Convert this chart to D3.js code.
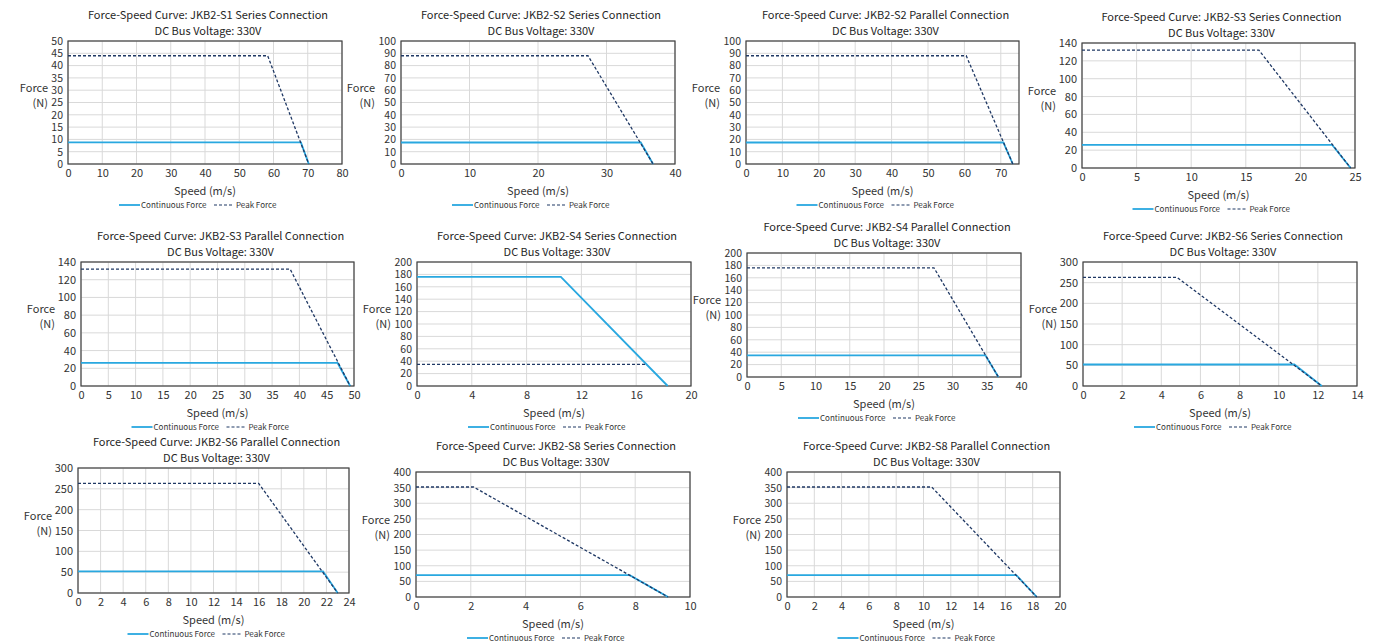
<!DOCTYPE html>
<html>
<head>
<meta charset="UTF-8">
<title>Force-Speed Curves</title>
<script src="https://cdn.jsdelivr.net/npm/d3@7"></script>
<style>
  body { margin: 0; background: #fff; }
  svg text { font-family: "Noto Sans CJK SC", "Noto Sans", sans-serif; fill: #333; }
</style>
</head>
<body>
<div id="chart"></div>
<script>
// chart data
var titles = [
  "Force-Speed Curve: JKB2-S1 Series Connection",
  "Force-Speed Curve: JKB2-S2 Series Connection",
  "Force-Speed Curve: JKB2-S2 Parallel Connection",
  "Force-Speed Curve: JKB2-S3 Series Connection",
  "Force-Speed Curve: JKB2-S3 Parallel Connection",
  "Force-Speed Curve: JKB2-S4 Series Connection",
  "Force-Speed Curve: JKB2-S4 Parallel Connection",
  "Force-Speed Curve: JKB2-S6 Series Connection",
  "Force-Speed Curve: JKB2-S6 Parallel Connection",
  "Force-Speed Curve: JKB2-S8 Series Connection",
  "Force-Speed Curve: JKB2-S8 Parallel Connection"
];
var subtitle = "DC Bus Voltage: 330V";
var xMaxes = [80, 40, 75, 25, 50, 20, 40, 14, 24, 10, 20];
var xSteps = [10, 10, 10, 5, 5, 4, 5, 2, 2, 2, 2];
var yMaxes = [50, 100, 100, 140, 140, 200, 200, 300, 300, 400, 400];
var ySteps = [5, 10, 10, 20, 20, 20, 20, 50, 50, 50, 50];

// [speed, force] points
var continuousForce = [
  [[0, 8.8], [68, 8.8], [70.3, 0]],
  [[0, 17.5], [35, 17.5], [36.8, 0]],
  [[0, 17.5], [70.7, 17.5], [73.3, 0]],
  [[0, 26], [22.9, 26], [24.6, 0]],
  [[0, 26], [47, 26], [49.3, 0]],
  [[0, 176], [10.5, 176], [18.3, 0]],
  [[0, 35], [34.8, 35], [36.7, 0]],
  [[0, 52], [10.8, 52], [12.2, 0]],
  [[0, 52], [21.7, 52], [23, 0]],
  [[0, 70], [7.8, 70], [9.2, 0]],
  [[0, 70], [16.8, 70], [18.3, 0]]
];
var peakForce = [
  [[0, 44], [58.3, 44], [70.3, 0]],
  [[0, 88], [27.3, 88], [36.8, 0]],
  [[0, 88], [60.5, 88], [73.3, 0]],
  [[0, 132], [16.2, 132], [24.6, 0]],
  [[0, 132], [38.3, 132], [49.3, 0]],
  [[0, 35], [16.7, 35]],
  [[0, 176], [27.3, 176], [36.7, 0]],
  [[0, 263], [4.8, 263], [12.2, 0]],
  [[0, 263], [16, 263], [23, 0]],
  [[0, 352], [2.1, 352], [9.2, 0]],
  [[0, 352], [10.6, 352], [18.3, 0]]
];

// plot boxes on the page: left, top, right, bottom
var boxes = [
  [68, 41, 342, 164],
  [401, 41, 675, 164],
  [746, 41, 1019, 164],
  [1082, 43, 1355, 168],
  [81, 262, 354, 386],
  [417, 262, 691, 386],
  [747, 253, 1021, 377],
  [1083, 262, 1357, 386],
  [78, 468, 349, 593],
  [416, 472, 690, 597],
  [787, 472, 1060, 597]
];

var W = 1390, H = 643;
var blue = '#29a8e0', navy = '#1f3864';

var svg = d3.select('#chart').append('svg')
    .attr('width', W)
    .attr('height', H);

titles.forEach(function(title, i){
  var b = boxes[i];
  var x = d3.scaleLinear().domain([0, xMaxes[i]]).range([b[0], b[2]]);
  var y = d3.scaleLinear().domain([0, yMaxes[i]]).range([b[3], b[1]]);
  var xt = d3.range(0, xMaxes[i] + 0.001, xSteps[i]);
  var yt = d3.range(0, yMaxes[i] + 0.001, ySteps[i]);
  var g = svg.append('g');
  var cx = (b[0] + b[2]) / 2;

  // grid
  g.selectAll('line.vg').data(xt).enter().append('line')
      .attr('x1', function(d){ return x(d); }).attr('x2', function(d){ return x(d); })
      .attr('y1', b[1]).attr('y2', b[3])
      .style('stroke', '#d9d9d9').style('stroke-width', 1);
  g.selectAll('line.hg').data(yt).enter().append('line')
      .attr('y1', function(d){ return y(d); }).attr('y2', function(d){ return y(d); })
      .attr('x1', b[0]).attr('x2', b[2])
      .style('stroke', '#d9d9d9').style('stroke-width', 1);

  g.append('rect')
      .attr('x', b[0]).attr('y', b[1])
      .attr('width', b[2] - b[0]).attr('height', b[3] - b[1])
      .style('fill', 'none').style('stroke', '#404040').style('stroke-width', 1.2);

  // axes (labels only)
  var xa = d3.axisBottom(x).tickValues(xt).tickSize(0).tickPadding(5);
  var ya = d3.axisLeft(y).tickValues(yt).tickSize(0).tickPadding(5);
  var gx = g.append('g').attr('transform', 'translate(0,' + b[3] + ')').call(xa);
  var gy = g.append('g').attr('transform', 'translate(' + b[0] + ',0)').call(ya);
  var gap = (b[3] - b[1]) / yt.length;
  [gx, gy].forEach(function(a, k){
    a.select('.domain').remove();
    a.selectAll('text')
        .style('font-family', '"Noto Sans CJK SC", sans-serif')
        .style('font-size', (k == 1 && gap < 14 ? 10.5 : 11) + 'px')
        .style('fill', '#333');
  });

  // lines
  var line = d3.line().x(function(d){ return x(d[0]); }).y(function(d){ return y(d[1]); });
  g.append('path').attr('d', line(continuousForce[i]))
      .style('fill', 'none').style('stroke', blue).style('stroke-width', 1.8);
  g.append('path').attr('d', line(peakForce[i]))
      .style('fill', 'none').style('stroke', navy).style('stroke-width', 1.3)
      .style('stroke-dasharray', '3,2');

  // titles
  g.append('text').attr('x', cx + 3).attr('y', b[1] - 22)
      .attr('text-anchor', 'middle').style('font-size', '11px').style('fill', '#262626').text(title);
  g.append('text').attr('x', cx + 3).attr('y', b[1] - 6.5)
      .attr('text-anchor', 'middle').style('font-size', '11px').style('fill', '#262626').text(subtitle);

  // axis titles
  var my = (b[1] + b[3]) / 2;
  var chars = String(yMaxes[i]).length;
  var fx = b[0] - (chars * 6 + 8);
  g.append('text').attr('x', fx).attr('y', my - 11)
      .attr('text-anchor', 'end').style('font-size', '11px').text('Force');
  g.append('text').attr('x', fx).attr('y', my + 4)
      .attr('text-anchor', 'end').style('font-size', '11px').text('(N)');
  g.append('text').attr('x', cx).attr('y', b[3] + 31)
      .attr('text-anchor', 'middle').style('font-size', '11px').text('Speed (m/s)');

  // legend
  var ly = b[3] + 41, lx = cx - 86;
  g.append('line').attr('x1', lx).attr('x2', lx + 21).attr('y1', ly).attr('y2', ly)
      .style('stroke', blue).style('stroke-width', 1.8);
  g.append('text').attr('x', lx + 22).attr('y', ly + 3)
      .style('font-size', '8px').text('Continuous Force');
  g.append('line').attr('x1', lx + 95).attr('x2', lx + 115).attr('y1', ly).attr('y2', ly)
      .style('stroke', navy).style('stroke-width', 1.2).style('stroke-dasharray', '3,2');
  g.append('text').attr('x', lx + 117).attr('y', ly + 3)
      .style('font-size', '8px').text('Peak Force');
});
</script>
</body>
</html>
